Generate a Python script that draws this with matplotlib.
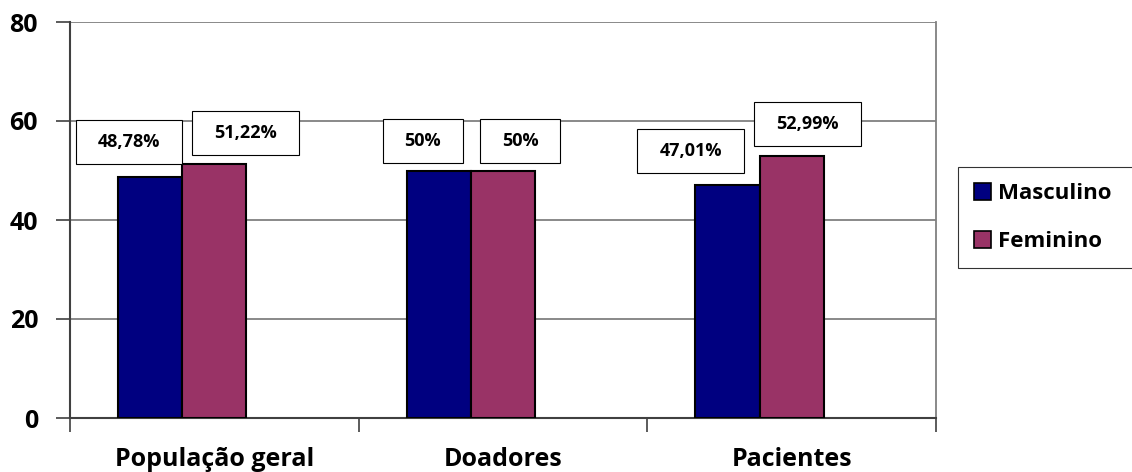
import matplotlib
matplotlib.use("Agg")
import matplotlib.pyplot as plt
from matplotlib.patches import Patch, Rectangle
from matplotlib.transforms import IdentityTransform
import numpy as np

categories = ["População geral", "Doadores", "Pacientes"]
masculino = [48.78, 50.0, 47.01]
feminino = [51.22, 50.0, 52.99]
masc_labels = ["48,78%", "50%", "47,01%"]
fem_labels = ["51,22%", "50%", "52,99%"]
y_ticks = [0, 20, 40, 60, 80]

# label box centre offsets from the top-centre of each bar, in pixels (dx, dy)
masc_offsets = [(-21, 35), (-16, 30), (-37, 34)]
fem_offsets = [(31, 31), (17, 30), (16, 32)]

plt.rcParams['font.family'] = ['Open Sans', 'DejaVu Sans']
plt.rcParams['font.weight'] = 'bold'

navy = '#000080'
plum = '#993366'

fig = plt.figure(figsize=(11.32, 4.72), dpi=100)
ax = fig.add_axes([70/1132, 54/472, (936-70)/1132, (418-22)/472])

x = np.arange(len(categories))
w = 1/4.5
b1 = ax.bar(x - w, masculino, w, color=navy, edgecolor='black', linewidth=1.5, zorder=3)
b2 = ax.bar(x, feminino, w, color=plum, edgecolor='black', linewidth=1.5, zorder=3)

ax.set_xlim(-0.5, len(categories) - 0.5)
ax.set_ylim(0, 80)
ax.set_yticks(y_ticks)
ax.set_yticklabels([str(v) for v in y_ticks], fontsize=18, fontweight='bold')
ax.yaxis.grid(True, color='#808080', linewidth=1.3, zorder=0)
ax.set_axisbelow(True)

ax.set_xticks(np.arange(len(categories) + 1) - 0.5)
ax.set_xticklabels([])
ax.set_xticks(x, minor=True)
ax.set_xticklabels(categories, minor=True, fontsize=18, fontweight='bold')
ax.tick_params(axis='x', which='minor', length=0, pad=21)
ax.tick_params(axis='x', which='major', length=10, width=1.2, color='#404040', direction='out')
ax.tick_params(axis='y', length=10, width=1.2, color='#404040', direction='out', pad=13)

for s in ['left', 'bottom']:
    ax.spines[s].set_color('#404040')
    ax.spines[s].set_linewidth(1.5)
ax.spines['top'].set_visible(False)
ax.spines['right'].set_color('#808080')
ax.spines['right'].set_linewidth(1.3)

# data labels in white boxes
texts = []
for bars, labels, offs in [(b1, masc_labels, masc_offsets), (b2, fem_labels, fem_offsets)]:
    for bar, lab, (dx, dy) in zip(bars, labels, offs):
        t = ax.annotate(lab, xy=(bar.get_x() + bar.get_width()/2, bar.get_height()),
                        xytext=(dx, dy), textcoords='offset pixels',
                        ha='center', va='center', fontsize=13, fontweight='bold',
                        zorder=6, annotation_clip=False)
        texts.append(t)

fig.canvas.draw()
r = fig.canvas.get_renderer()
for t in texts:
    bb = t.get_window_extent(r)
    cx = (bb.x0 + bb.x1) / 2
    cy = (bb.y0 + bb.y1) / 2
    bw = bb.width + 44
    bh = 44
    rect = Rectangle((cx - bw/2, cy - bh/2), bw, bh, transform=IdentityTransform(),
                     facecolor='white', edgecolor='black', linewidth=0.8, zorder=5, clip_on=False)
    ax.add_patch(rect)

handles = [Patch(facecolor=navy, edgecolor='black', linewidth=1.2),
           Patch(facecolor=plum, edgecolor='black', linewidth=1.2)]
leg = fig.legend(handles, ['Masculino', 'Feminino'],
                 loc='center left', mode='expand',
                 bbox_to_anchor=(958/1132, 206/472, 200/1132, 97/472),
                 prop={'size': 16, 'weight': 'bold'}, frameon=True, fancybox=False,
                 edgecolor='black', handlelength=0.8, handleheight=0.8,
                 handletextpad=0.3, labelspacing=1.2, borderpad=0.7, borderaxespad=0)
leg.get_frame().set_linewidth(0.8)

fig.savefig("out.png", dpi=100)
